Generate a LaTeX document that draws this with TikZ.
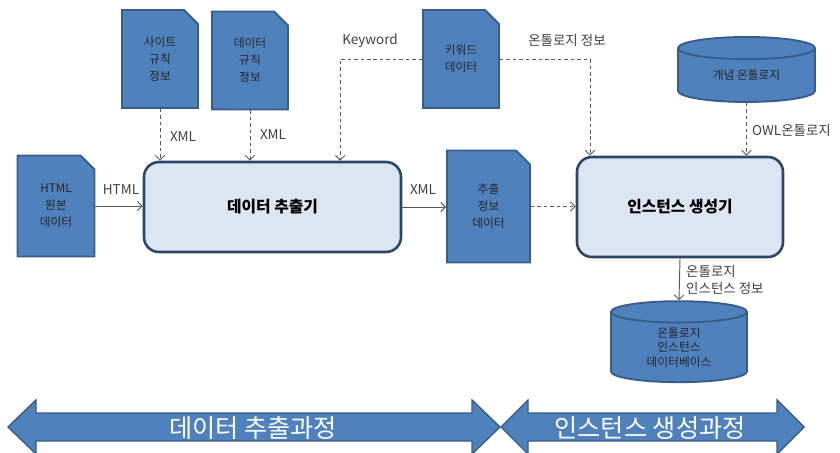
\documentclass[tikz,border=0pt]{standalone}
\usepackage{fontspec}
\setmainfont{Noto Sans CJK KR}
\usetikzlibrary{shapes.misc,shapes.geometric,arrows.meta}

\definecolor{docblue}{RGB}{79,129,189}
\definecolor{docline}{RGB}{56,93,138}
\definecolor{boxfill}{RGB}{220,230,242}
\definecolor{boxline}{RGB}{44,71,102}
\definecolor{wire}{RGB}{89,89,89}
\definecolor{labelgray}{RGB}{64,64,64}

\tikzset{
    doc/.style={chamfered rectangle, chamfered rectangle corners=north east,
        chamfered rectangle xsep=0.21cm, chamfered rectangle ysep=0.21cm,
        fill=docblue, draw=docline, line width=1.6pt, inner sep=0pt, align=center,
        text=black!85, font=\fontsize{10}{14.5}\selectfont,
        execute at begin node={\rule{0pt}{18pt}}},
    proc/.style={rectangle, rounded corners=0.45cm, fill=boxfill, draw=boxline,
        line width=2.2pt, inner sep=0pt, font=\fontsize{13.5}{16}\selectfont\bfseries},
    store/.style={cylinder, shape border rotate=90, aspect=0.33, fill=docblue,
        draw=docline, line width=1.6pt, inner sep=0pt, align=center,
        text=black!85, font=\fontsize{10}{12.3}\selectfont},
    lbl/.style={text=labelgray, inner sep=0pt, font=\fontsize{11.5}{14.5}\selectfont},
    flow/.style={draw=wire, line width=0.8pt, -{Straight Barb[length=4pt,width=8pt]}},
    dflow/.style={flow, dash pattern=on 3pt off 2.5pt},
    phase/.style={fill=docblue, draw=docline, line width=1.2pt}
}

\begin{document}
\begin{tikzpicture}[x=0.03cm, y=-0.03cm]
            \useasboundingbox (0,0) rectangle (840,453);
            \node[doc, minimum width=2.28cm, minimum height=2.94cm] (site) at (160,59) {사이트\\규칙\\정보};
            \node[doc, minimum width=2.28cm, minimum height=2.94cm] (datarule) at (250,60.5) {데이터\\규칙\\정보};
            \node[doc, minimum width=2.28cm, minimum height=2.94cm] (kw) at (461,59) {키워드\\데이터};
            \node[doc, minimum width=2.31cm, minimum height=3.03cm] (html) at (56,206) {HTML\\원본\\데이터};
            \node[doc, minimum width=2.49cm, minimum height=3.36cm] (info) at (488.5,206.5) {추출\\정보\\데이터};
            \node[proc, minimum width=7.71cm, minimum height=2.7cm] (ext) at (272.5,207) {데이터 추출기};
            \node[proc, minimum width=6.18cm, minimum height=3cm] (ins) at (680,207) {인스턴스 생성기};
            \node[store, minimum width=4.11cm, minimum height=1.95cm] (onto) at (746.5,75.5) {개념 온톨로지};
            \node[store, minimum width=4.08cm, minimum height=2.43cm] (db) at (679,347.5) {온톨로지\\인스턴스\\데이터베이스};

            \node[lbl] (lxmlsite) at (183,137) {XML};
            \node[lbl] (lxmldata) at (273,135) {XML};
            \node[lbl] (lkw) at (370,41) {Keyword};
            \node[lbl] (lontoinfo) at (567,40) {온톨로지 정보};
            \node[lbl, anchor=west] (lowl) at (752,130) {OWL온톨로지};
            \node[lbl] (lhtml) at (121,190) {HTML};
            \node[lbl] (lxmlout) at (423,190) {XML};
            \node[lbl, align=left, anchor=north west] (linst) at (686,265) {온톨로지\\인스턴스 정보};

            \draw[dflow] (site.south) -- (site.south |- ext.north);
            \draw[dflow] (datarule.south) -- (datarule.south |- ext.north);
            \draw[dflow] (kw.west) -| ([xshift=2.03cm]ext.north);
            \draw[dflow] (kw.east) -| ([xshift=-2.7cm]ins.north);
            \draw[dflow] (onto.south) -- (onto.south |- ins.north);
            \draw[flow] (html.east) -- (html.east -| ext.west);
            \draw[flow] (ext.east) -- (ext.east -| info.west);
            \draw[dflow] (info.east) -- (info.east -| ins.west);
            \draw[flow] (ins.south) -- (db.north);

            \draw[phase] (8,427) -- (36,400) -- (36,413) -- (472,413) -- (472,400) -- (500,427) -- (472,454) -- (472,441) -- (36,441) -- (36,454) -- cycle;
            \draw[phase] (501,427) -- (528,400) -- (528,413) -- (777,413) -- (777,400) -- (804,427) -- (777,454) -- (777,441) -- (528,441) -- (528,454) -- cycle;
            \node[text=white, font=\fontsize{21.5}{24}\selectfont] (lextract) at (253,428) {데이터 추출과정};
            \node[text=white, font=\fontsize{21.5}{24}\selectfont] (lgenerate) at (650,428) {인스턴스 생성과정};
\end{tikzpicture}
\end{document}
